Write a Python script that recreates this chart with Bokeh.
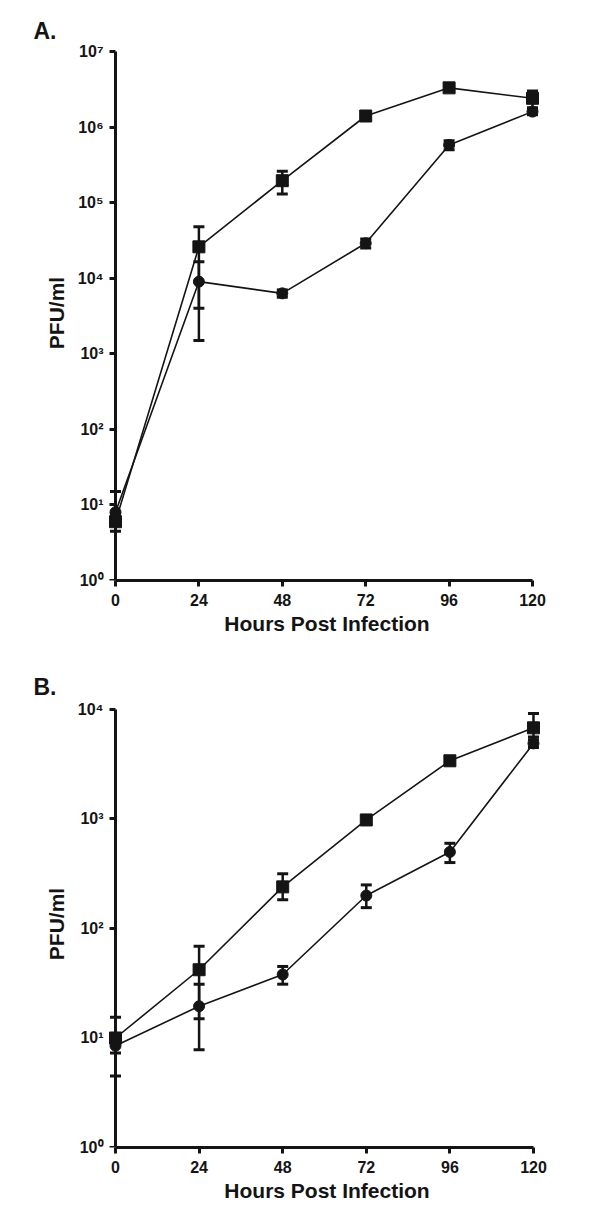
from bokeh.plotting import figure
from bokeh.models import Range1d, Whisker, TeeHead, ColumnDataSource, FixedTicker, LogAxis
from bokeh.layouts import column
from bokeh.embed import file_html
from bokeh.resources import INLINE

hours = [0, 24, 48, 72, 96, 120]
x_ticks = [0, 24, 48, 72, 96, 120]

# Panel A
a_square = [6, 26000, 195000, 1400000, 3300000, 2400000]
a_square_lo = [4.5, 4000, 130000, 1250000, 2950000, 1800000]
a_square_hi = [7.5, 48000, 260000, 1550000, 3650000, 3000000]
a_circle = [8, 9000, 6300, 29000, 580000, 1600000]
a_circle_lo = [6, 1500, 5600, 25000, 500000, 1450000]
a_circle_hi = [15, 16500, 7000, 33000, 660000, 1750000]
a_yticks = [1, 10, 100, 1000, 10000, 100000, 1000000, 10000000]
a_ylabels = ["10⁰", "10¹", "10²", "10³", "10⁴", "10⁵", "10⁶", "10⁷"]

# Panel B
b_square = [10, 42, 240, 980, 3400, 6800]
b_square_lo = [4.5, 15, 183, 910, 3150, 5600]
b_square_hi = [15.5, 69, 316, 1060, 3650, 9200]
b_circle = [8.5, 19.5, 38, 200, 500, 4900]
b_circle_lo = [7.3, 7.8, 31, 155, 400, 4500]
b_circle_hi = [9.8, 31, 45, 250, 600, 5300]
b_yticks = [1, 10, 100, 1000, 10000]
b_ylabels = ["10⁰", "10¹", "10²", "10³", "10⁴"]

FONT = "Liberation Sans"
INK = "#141414"


def style_axis(ax):
    ax.axis_line_width = 3
    ax.axis_line_color = INK
    ax.major_tick_line_width = 3
    ax.major_tick_line_color = INK
    ax.major_tick_out = 6
    ax.major_tick_in = 0
    ax.minor_tick_line_color = None
    ax.major_label_text_font = FONT
    ax.major_label_text_font_style = "bold"
    ax.major_label_text_color = INK
    ax.axis_label_text_font = FONT
    ax.axis_label_text_font_style = "bold"
    ax.axis_label_text_color = INK


def make_panel(height, top, bottom, xmin, xmax, ytop, sq, sq_lo, sq_hi, ci, ci_lo, ci_hi,
               yticks, ylabels, letter, letter_standoff):
    p = figure(width=600, height=height, y_axis_type="log",
               x_range=Range1d(xmin, xmax), y_range=Range1d(1, ytop),
               output_backend="svg", toolbar_location=None,
               min_border_left=108, min_border_right=55,
               min_border_top=top, min_border_bottom=bottom)
    p.outline_line_color = None
    p.grid.grid_line_color = None
    p.background_fill_color = "white"
    p.border_fill_color = "white"

    # panel letter
    p.title.text = letter
    p.title.align = "left"
    p.title.offset = -75
    p.title.standoff = letter_standoff
    p.title.text_font = FONT
    p.title.text_font_style = "bold"
    p.title.text_font_size = "23px"
    p.title.text_color = INK

    # x axis (at frame bottom = 10^0)
    xa = p.xaxis[0]
    style_axis(xa)
    xa.bounds = (0, 120)
    xa.ticker = FixedTicker(ticks=x_ticks)
    xa.major_label_text_font_size = "16px"
    xa.major_label_standoff = 7
    xa.axis_label = "Hours Post Infection"
    xa.axis_label_text_font_size = "21px"
    xa.axis_label_standoff = 3

    # y axis labels only (at frame edge)
    ya = p.yaxis[0]
    style_axis(ya)
    ya.axis_line_color = None
    ya.major_tick_line_color = None
    ya.major_tick_out = 0
    ya.ticker = FixedTicker(ticks=yticks)
    ya.major_label_overrides = {float(t): l for t, l in zip(yticks, ylabels)}
    ya.major_label_text_font_size = "16px"
    ya.major_label_standoff = 5
    ya.axis_label = "PFU/ml"
    ya.axis_label_text_font_size = "21px"
    ya.axis_label_standoff = 7

    # y axis line + ticks at x = 0
    yline = LogAxis(fixed_location=0, bounds=(yticks[0], yticks[-1]),
                    ticker=FixedTicker(ticks=yticks))
    style_axis(yline)
    yline.major_label_text_font_size = "0px"
    yline.major_label_text_color = None
    p.add_layout(yline, "left")

    src_sq = ColumnDataSource(dict(x=hours, y=sq, lo=sq_lo, hi=sq_hi))
    src_ci = ColumnDataSource(dict(x=hours, y=ci, lo=ci_lo, hi=ci_hi))

    for src in (src_sq, src_ci):
        p.add_layout(Whisker(base="x", upper="hi", lower="lo", source=src,
                             dimension="height", line_width=2.5, line_color=INK,
                             upper_head=TeeHead(size=11, line_width=3, line_color=INK),
                             lower_head=TeeHead(size=11, line_width=3, line_color=INK)))

    p.line("x", "y", source=src_sq, line_width=1.6, line_color=INK)
    p.line("x", "y", source=src_ci, line_width=1.6, line_color=INK)
    p.scatter("x", "y", source=src_sq, marker="square", size=12,
              fill_color=INK, line_color=INK)
    p.scatter("x", "y", source=src_ci, marker="circle", size=11,
              fill_color=INK, line_color=INK)
    return p


pA = make_panel(645, 45, 65, -2.014, 123.74, 10 ** 7.079,
                a_square, a_square_lo, a_square_hi, a_circle, a_circle_lo, a_circle_hi,
                a_yticks, a_ylabels, "A.", 3)
pB = make_panel(570, 55, 68, -2.01, 123.45, 10 ** 4.082,
                b_square, b_square_lo, b_square_hi, b_circle, b_circle_lo, b_circle_hi,
                b_yticks, b_ylabels, "B.", 1)

layout = column(pA, pB)
open("out.html", "w").write(file_html(layout, INLINE))
